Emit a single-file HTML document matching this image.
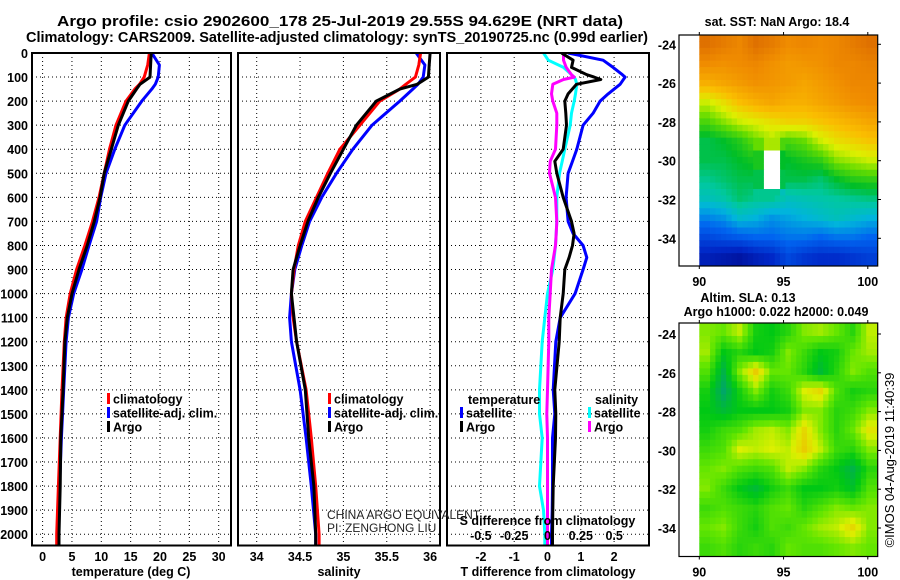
<!DOCTYPE html>
<html><head><meta charset="utf-8"><style>
html,body{margin:0;padding:0;background:#fff;}
svg{display:block;font-family:"Liberation Sans",sans-serif;}
.b{font-weight:bold;}
</style></head><body>
<svg id="s" width="900" height="580" viewBox="0 0 900 580" xmlns="http://www.w3.org/2000/svg">
<text class="b" x="340" y="26" font-size="14.5" text-anchor="middle" textLength="566" lengthAdjust="spacingAndGlyphs">Argo profile: csio 2902600_178 25-Jul-2019 29.55S 94.629E (NRT data)</text>
<text class="b" x="337" y="42" font-size="14.5" text-anchor="middle" textLength="622" lengthAdjust="spacingAndGlyphs">Climatology: CARS2009. Satellite-adjusted climatology: synTS_20190725.nc (0.99d earlier)</text>
<g id="g"></g>
</svg>
<script>
// ---- data ----
const depths = [0,50,100,130,150,200,300,400,500,600,700,800,900,1000,1100,1200,1400,1600,1800,2000,2050];
const tempClim = [18.2,17.9,17.3,16.5,15.7,14.2,12.5,11.4,10.5,9.6,8.5,7.2,5.8,4.7,4.0,3.7,3.3,3.0,2.7,2.4,2.4];
const tempSat  = [18.6,19.9,19.7,19.2,18.6,16.9,14.0,12.3,10.8,9.9,9.2,7.9,6.7,5.3,4.4,4.0,3.6,3.2,2.9,2.7,2.7];
const tempArgo = [18.5,18.4,18.3,16.6,16.0,14.6,12.9,11.7,10.5,9.8,8.8,7.6,6.2,5.0,4.2,3.8,3.5,3.1,3.0,2.8,2.8];
const salClim = [35.89,35.87,35.83,35.72,35.65,35.42,35.19,34.96,34.82,34.69,34.56,34.48,34.43,34.40,34.42,34.46,34.57,34.63,34.68,34.72,34.72];
const salSat  = [35.84,35.94,35.92,35.86,35.80,35.65,35.33,35.11,34.92,34.75,34.61,34.52,34.44,34.40,34.38,34.40,34.50,34.57,34.63,34.68,34.68];
const salArgo = [36.00,35.99,35.98,35.85,35.65,35.38,35.15,35.00,34.85,34.71,34.59,34.50,34.42,34.40,34.43,34.46,34.56,34.60,34.66,34.68,34.68];
const diffDepths = [0,30,60,90,100,110,130,170,200,250,300,400,450,500,600,700,750,800,850,900,1000,1100,1200,1400,1500,1600,1800,1900,2000,2050];
const dTSat  = [0.62,1.67,1.97,2.25,2.33,2.28,2.18,1.82,1.58,1.37,1.07,0.88,0.75,0.62,0.56,0.62,0.77,1.07,1.18,1.07,0.83,0.38,0.25,0.17,0.22,0.15,0.15,0.14,0.12,0.12];
const dTArgo = [0.42,0.77,0.72,1.18,1.40,1.60,0.87,0.62,0.52,0.55,0.57,0.47,0.22,0.28,0.47,0.72,0.80,0.75,0.65,0.52,0.47,0.38,0.35,0.22,0.25,0.24,0.17,0.16,0.15,0.15];
const dSSat  = [-0.03,0.006,0.12,0.18,0.20,0.21,0.22,0.21,0.20,0.18,0.17,0.13,0.11,0.09,0.07,0.07,0.065,0.06,0.05,0.04,0.0,-0.02,-0.04,-0.06,-0.06,-0.04,-0.06,-0.03,-0.02,-0.02];
const dSArgo = [0.12,0.12,0.14,0.18,0.20,0.12,0.04,0.03,0.04,0.07,0.07,0.06,0.02,0.015,0.06,0.07,0.065,0.06,0.045,0.03,0.02,0.01,0.01,0.0,-0.005,0.0,0.0,0.0,0.0,0.0];
const depthTicks = [0,100,200,300,400,500,600,700,800,900,1000,1100,1200,1300,1400,1500,1600,1700,1800,1900,2000];
const tempTicks = [0,5,10,15,20,25,30];
const salTicks = [34,34.5,35,35.5,36];
const salTickLabels = ["34","34.5","35","35.5","36"];
const tdTicks = [-2,-1,0,1,2];
const sdTicks = [-0.5,-0.25,0,0.25,0.5];
const sdTickLabels = ["-0.5","-0.25","0","0.25","0.5"];
const latTicks = [-24,-26,-28,-30,-32,-34];
const lonTicks = [90,95,100];
// SST map normalized values (rows north->south, cols west->east), -1 = missing
const sstGrid = [
[.90,.88,.86,.90,.88,.85,.86,.85,.86,.88,.90],
[.85,.84,.85,.86,.84,.82,.83,.84,.86,.86,.87],
[.78,.80,.82,.84,.83,.82,.80,.82,.84,.86,.86],
[.66,.70,.75,.78,.80,.78,.78,.80,.82,.84,.85],
[.58,.62,.66,.68,.70,.72,.72,.74,.76,.78,.80],
[.50,.52,.55,.60,.64,.58,.60,.66,.70,.72,.74],
[.50,.50,.52,.54,-1,.52,.54,.56,.62,.64,.66],
[.46,.48,.50,.50,-1,.50,.50,.48,.52,.55,.56],
[.42,.44,.48,.46,.46,.42,.43,.44,.45,.46,.47],
[.32,.34,.40,.38,.34,.36,.38,.40,.42,.40,.38],
[.22,.24,.26,.28,.28,.30,.30,.28,.30,.30,.28],
[.12,.10,.08,.12,.15,.22,.18,.16,.16,.18,.20]];
const slaGrid = [
[.6,.55,.7,.35,.3,.4,.6,.65,.55,.4,.7],
[.65,.3,.4,.3,.35,.6,.45,.3,.35,.55,.65],
[.5,.15,.6,.9,.55,.55,.4,.2,.4,.6,.5],
[.35,.05,.35,.6,.35,.45,.75,.85,.5,.35,.4],
[.3,.2,.3,.3,.3,.35,.6,.6,.4,.45,.6],
[.35,.45,.5,.65,.7,.6,.85,.6,.4,.55,.8],
[.45,.5,.75,.7,.75,.7,.9,.7,.45,.4,.6],
[.55,.6,.5,.45,.5,.7,.6,.4,.3,.15,.4],
[.6,.45,.3,.2,.35,.45,.3,.3,.35,.25,.5],
[.45,.5,.45,.4,.5,.55,.4,.5,.6,.55,.6],
[.55,.6,.45,.35,.5,.45,.55,.65,.7,.85,.6],
[.45,.5,.4,.45,.4,.55,.5,.5,.55,.6,.55]];

// ---- scales ----
const Y = d => 53 + 0.2406*d;
const TX = t => 42.6 + 5.87*t;
const SX = s => 256.7 + 86.7*(s-34);
const DX = t => 547.5 + 33.3*t;
const DSX = s => 547.5 + 133.3*s;
const LON = l => 699.3 + 16.85*(l-90);
const LAT1 = l => 44.3 + 19.4*(-24-l);
const LAT2 = l => 334 + 19.4*(-24-l);

const NS='http://www.w3.org/2000/svg';
const G=document.getElementById('g');
function mk(tag,attrs,parent){const e=document.createElementNS(NS,tag);for(const k in attrs)e.setAttribute(k,attrs[k]);(parent||G).appendChild(e);return e;}
function txt(s,x,y,size,anchor,bold,parent){const e=mk('text',{x:x,y:y,'font-size':size,'text-anchor':anchor||'start'},parent);if(bold)e.setAttribute('font-weight','bold');e.textContent=s;return e;}

const panels=[{x0:32,x1:231,name:'temperature'},{x0:238,x1:440,name:'salinity'},{x0:447,x1:649,name:'difference'}];
const yTop=53,yBot=545.5;

// gridlines
panels.forEach((p,pi)=>{
  const g=mk('g',{});
  
  
  depthTicks.forEach(d=>{ if(d>0){const l=mk('line',{x1:p.x0,x2:p.x1,y1:Y(d),y2:Y(d),stroke:'#000','stroke-width':1,'stroke-dasharray':'1,3'},g);
    
    }});
  let xs=[];
  if(pi===0) xs=tempTicks.map(TX);
  if(pi===1) xs=salTicks.map(SX);
  if(pi===2) xs=tdTicks.map(DX);
  xs.forEach(x=>{const l=mk('line',{x1:x,x2:x,y1:yTop,y2:yBot,stroke:'#000','stroke-width':1,'stroke-dasharray':'1,3'},g);
    
    });
  if(pi===2){ depthTicks.forEach(d=>{ if(d>0&&d<=1200){ mk('line',{x1:p.x1-1,x2:p.x1+6,y1:Y(d),y2:Y(d),stroke:'#fff','stroke-width':0},g);} }); }
});

// y tick labels
depthTicks.forEach(d=>{const t=txt(String(d),28,Y(d)+5,12.5,'end',true);
  
  });

function poly(xsArr,ysArr,fx,color,w,name){
  const pts=xsArr.map((v,i)=>fx(v).toFixed(1)+','+Y(ysArr[i]).toFixed(1)).join(' ');
  const e=mk('polyline',{points:pts,fill:'none',stroke:color,'stroke-width':w,'stroke-linejoin':'round'});
  
  
}
const clip=mk('clipPath',{id:'cp'});mk('rect',{x:0,y:yTop,width:660,height:yBot-yTop},clip);
// profiles
poly(tempSat,depths,TX,'#0000ff',3,'temp-satellite-line');
poly(tempClim,depths,TX,'#ff0000',3,'temp-climatology-line');
poly(tempArgo,depths,TX,'#000',3,'temp-argo-line');
poly(salSat,depths,SX,'#0000ff',3,'salinity-satellite-line');
poly(salClim,depths,SX,'#ff0000',3,'salinity-climatology-line');
poly(salArgo,depths,SX,'#000',3,'salinity-argo-line');
poly(dSSat,diffDepths,DSX,'#00ffff',3,'s-diff-satellite-line');
poly(dSArgo,diffDepths,DSX,'#ff00ff',3,'s-diff-argo-line');
poly(dTSat,diffDepths,DX,'#0000ff',3,'t-diff-satellite-line');
poly(dTArgo,diffDepths,DX,'#000',3,'t-diff-argo-line');
G.querySelectorAll('polyline').forEach(p=>p.setAttribute('clip-path','url(#cp)'));

// frames
panels.forEach(p=>{const r=mk('rect',{x:p.x0,y:yTop,width:p.x1-p.x0,height:yBot-yTop,fill:'none',stroke:'#000','stroke-width':2});
  
  });

// x tick labels
tempTicks.forEach(t=>{const e=txt(String(t),TX(t),561,12.5,'middle',true);});
salTicks.forEach((s,i)=>{const e=txt(salTickLabels[i],SX(s),561,12.5,'middle',true);});
tdTicks.forEach(t=>{const e=txt(String(t),DX(t),561,12.5,'middle',true);});
sdTicks.forEach((s,i)=>{const e=txt(sdTickLabels[i],DSX(s),540,12.5,'middle',true);});
[['temperature (deg C)',131,'temp-axis-title'],['salinity',339,'salinity-axis-title'],['T difference from climatology',548,'t-diff-axis-title']].forEach(a=>{const e=txt(a[0],a[1],576,12.5,'middle',true);});
{const e=txt('S difference from climatology',547.5,525,12.5,'middle',true);}
{const e=txt('CHINA ARGO EQUIVALENT',327,519,12,'start',false);e.setAttribute('fill','#222');}
{const e=txt('PI: ZENGHONG LIU',327,532,12,'start',false);e.setAttribute('fill','#222');}

// legends
function legend(x,y,color,label,name){
  const r=mk('rect',{x:x,y:y-6,width:3,height:11,fill:color});
  
  
  const t=txt(label,x+6,y+4.5,12.5,'start',true);
  
  
}
legend(107,399,'#ff0000','climatology','legend-temp-climatology');
legend(107,413,'#0000ff','satellite-adj. clim.','legend-temp-satellite');
legend(107,427,'#000','Argo','legend-temp-argo');
legend(328,399,'#ff0000','climatology','legend-sal-climatology');
legend(328,413,'#0000ff','satellite-adj. clim.','legend-sal-satellite');
legend(328,427,'#000','Argo','legend-sal-argo');
{const e=txt('temperature',468,404,12.5,'start',true);}
{const e=txt('salinity',595,404,12.5,'start',true);}
legend(460,413,'#0000ff','satellite','legend-t-diff-satellite');
legend(460,427,'#000','Argo','legend-t-diff-argo');
legend(588,413,'#00ffff','satellite','legend-s-diff-satellite');
legend(588,427,'#ff00ff','Argo','legend-s-diff-argo');

// ---- maps ----
function cmap(stops,v){
  for(let i=1;i<stops.length;i++){ if(v<=stops[i][0]){const a=stops[i-1],b=stops[i],f=(v-a[0])/(b[0]-a[0]);
    return 'rgb('+[1,2,3].map(k=>Math.round(a[k]+(b[k]-a[k])*f)).join(',')+')';}}
  const l=stops[stops.length-1];return 'rgb('+l[1]+','+l[2]+','+l[3]+')';
}
const sstStops=[[0,0,0,120],[.15,0,40,200],[.28,0,100,240],[.38,0,180,220],[.45,0,200,160],[.52,0,190,40],[.60,100,220,0],[.67,220,240,0],[.75,250,190,0],[.85,240,140,0],[1,190,60,0]];
const slaStops=[[0,0,160,120],[.3,0,200,20],[.55,100,230,0],[.75,220,240,0],[1,240,180,0]];
function drawMap(grid,stops,top,bot,name){
  const x0=699.3,x1=877,rows=grid.length,cols=grid[0].length;
  const cw=(x1-x0)/cols,ch=(bot-top)/rows,sub=3;
  const g=mk('g',{});
  
  
  const val=(r,c)=>grid[Math.max(0,Math.min(rows-1,r))][Math.max(0,Math.min(cols-1,c))];
  for(let r=0;r<rows;r++)for(let c=0;c<cols;c++){
    for(let i=0;i<sub;i++)for(let j=0;j<sub;j++){
      const fr=r+(i+0.5)/sub-0.5, fc=c+(j+0.5)/sub-0.5;
      const r0=Math.floor(fr),c0=Math.floor(fc),ar=fr-r0,ac=fc-c0;
      const q=[val(r0,c0),val(r0,c0+1),val(r0+1,c0),val(r0+1,c0+1)];
      let v;
      if(grid[r][c]<0) v=-1;
      else if(q.some(x=>x<0)) v=grid[r][c];
      else v=(q[0]*(1-ac)+q[1]*ac)*(1-ar)+(q[2]*(1-ac)+q[3]*ac)*ar;
      mk('rect',{x:(x0+(c+j/sub)*cw).toFixed(2),y:(top+(r+i/sub)*ch).toFixed(2),width:(cw/sub+0.4).toFixed(2),height:(ch/sub+0.4).toFixed(2),fill:v<0?'#fff':cmap(stops,v)},g);
    }
  }
}
function mapFrame(top,bot,LATF,name){
  const f=mk('rect',{x:679,y:top,width:198.7,height:bot-top,fill:'none',stroke:'#000','stroke-width':1.2});
  
  
  latTicks.forEach(l=>{
    const t=txt(String(l),676,LATF(l)+5,12.5,'end',true);
    
    
    mk('line',{x1:877.7,x2:881,y1:LATF(l),y2:LATF(l),stroke:'#000'});
  });
  lonTicks.forEach(l=>{
    const t=txt(String(l),LON(l),bot+20,12.5,'middle',true);
    
    
    mk('line',{x1:LON(l),x2:LON(l),y1:top-3,y2:top,stroke:'#000'});
    mk('line',{x1:LON(l),x2:LON(l),y1:bot,y2:bot+3,stroke:'#000'});
  });
}
drawMap(sstGrid,sstStops,35,266,'sst-map');
mapFrame(35,266,LAT1,'sst-map');
drawMap(slaGrid,slaStops,323,556.5,'sla-map');
mapFrame(323,556.5,LAT2,'sla-map');
{const e=txt('sat. SST: NaN Argo: 18.4',777,26,12.5,'middle',true);}
{const e=txt('Altim. SLA: 0.13',748,302,12.5,'middle',true);}
{const e=txt('Argo h1000: 0.022 h2000: 0.049',776,316,12.5,'middle',true);}
{const e=txt('©IMOS 04-Aug-2019 11:40:39',0,0,13,'middle',false);e.setAttribute('transform','translate(894,460) rotate(-90)');}
</script>
</body></html>
